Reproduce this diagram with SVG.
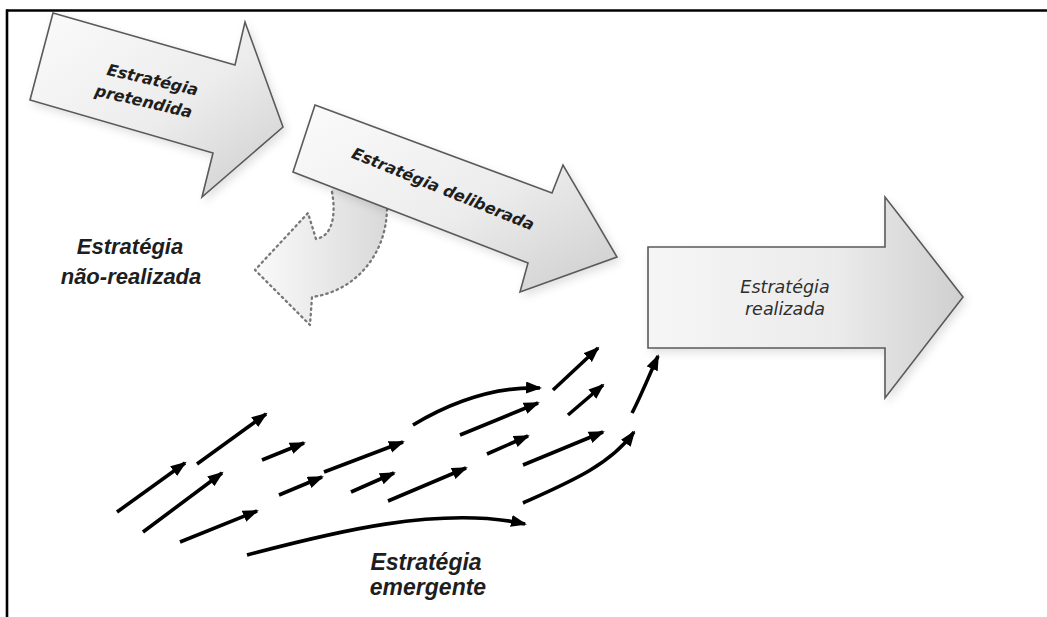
<svg xmlns="http://www.w3.org/2000/svg" width="1047" height="617" viewBox="0 0 1047 617">
<style>
.big{stroke:#5a5a5a;stroke-width:1.6;stroke-linejoin:miter;filter:url(#sh)}
.lbl{font-family:"DejaVu Sans",Verdana,sans-serif;font-weight:bold;font-style:italic;font-size:16px;fill:#1e1e1e}
.lbl3{font-family:"DejaVu Sans",Verdana,sans-serif;font-style:italic;font-size:17.5px;fill:#2e2e2e;text-anchor:middle}
.cap{font-family:"Liberation Sans",Arial,sans-serif;font-weight:bold;font-style:italic;fill:#1e1e1e;text-anchor:middle}
.ar{fill:none;stroke:#000;stroke-width:3.6;marker-end:url(#ah)}
.dash{stroke:#777;stroke-width:2.3;stroke-dasharray:1.5 4;stroke-linecap:round;stroke-linejoin:round}
</style>
<defs>
<linearGradient id="g1" x1="0" y1="0" x2="1" y2="1">
<stop offset="0" stop-color="#fbfbfb"/>
<stop offset="0.55" stop-color="#ececec"/>
<stop offset="1" stop-color="#cdcdcd"/>
</linearGradient>
<linearGradient id="g3" x1="0" y1="0" x2="1" y2="0">
<stop offset="0" stop-color="#f6f6f6"/>
<stop offset="0.6" stop-color="#ebebeb"/>
<stop offset="1" stop-color="#cfcfcf"/>
</linearGradient>
<linearGradient id="gd" x1="0" y1="0" x2="1" y2="0">
<stop offset="0" stop-color="#fafafa"/>
<stop offset="1" stop-color="#d9d9d9"/>
</linearGradient>
<filter id="sh" x="-10%" y="-10%" width="130%" height="130%">
<feDropShadow dx="3" dy="4" stdDeviation="4" flood-color="#000" flood-opacity="0.12"/>
</filter>
<marker id="ah" markerUnits="userSpaceOnUse" markerWidth="17" markerHeight="13" refX="14" refY="6" orient="auto">
<path d="M0,0 L16,6 L0,12 Z" fill="#000"/>
</marker>
</defs>
<rect x="0" y="0" width="1047" height="617" fill="#fff"/>
<g id="frame">
<line x1="6" y1="10.5" x2="1047" y2="10.5" stroke="#000" stroke-width="2.6"/>
<line x1="7" y1="9.5" x2="7" y2="617" stroke="#000" stroke-width="2.6"/>
</g>
<g id="nao-realizada">
<path d="M332,182 L332,192 C336,214 333,236 316,239 L308,213 L255,270 L310,325 L312,297 C352,292 386,258 387,209 L387,200 Z" fill="url(#gd)" stroke="none"/>
<path d="M332,192 C336,214 333,236 316,239 L308,213 L255,270 L310,325 L312,297 C352,292 386,258 387,209" fill="none" class="dash"/>
<text class="cap" font-size="22" x="130" y="254">Estratégia</text>
<text class="cap" font-size="22" x="131" y="284">não-realizada</text>
</g>
<g id="pretendida">
<polygon class="big" fill="url(#g1)" points="53,13 235,65 245,22 283,127 202,197 213,153 30,100"/>
<g transform="translate(147,95.5) rotate(13)">
<text class="lbl" text-anchor="middle" x="2" y="-11">Estratégia</text>
<text class="lbl" text-anchor="middle" x="-2" y="12">pretendida</text>
</g>
</g>
<g id="deliberada">
<polygon class="big" fill="url(#g1)" points="315,105 552,193 563,165 617,257 520,292 528,263 293,172"/>
<text class="lbl" text-anchor="middle" transform="translate(441,194) rotate(22)">Estratégia deliberada</text>
</g>
<g id="realizada">
<polygon class="big" fill="url(#g3)" points="648,247 885,247 885,197 963,297 885,398 885,348 648,348"/>
<text class="lbl3" x="785" y="293">Estratégia</text>
<text class="lbl3" x="785" y="315">realizada</text>
</g>
<g id="emergente">
<text class="cap" font-size="23" x="426" y="570">Estratégia</text>
<text class="cap" font-size="23" x="428" y="595">emergente</text>
</g>
<g id="connectors">
<path class="ar" d="M117,512 L185,463"/>
<path class="ar" d="M197,464 L266,414"/>
<path class="ar" d="M143,532 L222,473"/>
<path class="ar" d="M262,460 L304,443"/>
<path class="ar" d="M180,542 L257,511"/>
<path class="ar" d="M279,495 L322,477"/>
<path class="ar" d="M324,472 L403,442"/>
<path class="ar" d="M351,492 L394,473"/>
<path class="ar" d="M388,501 L466,468"/>
<path class="ar" d="M413,425 Q478,386 540,388"/>
<path class="ar" d="M460,435 L538,403"/>
<path class="ar" d="M487,454 L528,436"/>
<path class="ar" d="M523,465 L603,432"/>
<path class="ar" d="M553,390 L598,348"/>
<path class="ar" d="M568,415 L603,385"/>
<path class="ar" d="M523,503 C570,482 610,465 634,432"/>
<path class="ar" d="M632,413 C640,398 648,378 658,356"/>
<path class="ar" d="M247,555 C330,533 440,505 525,524"/>
</g>
</svg>
